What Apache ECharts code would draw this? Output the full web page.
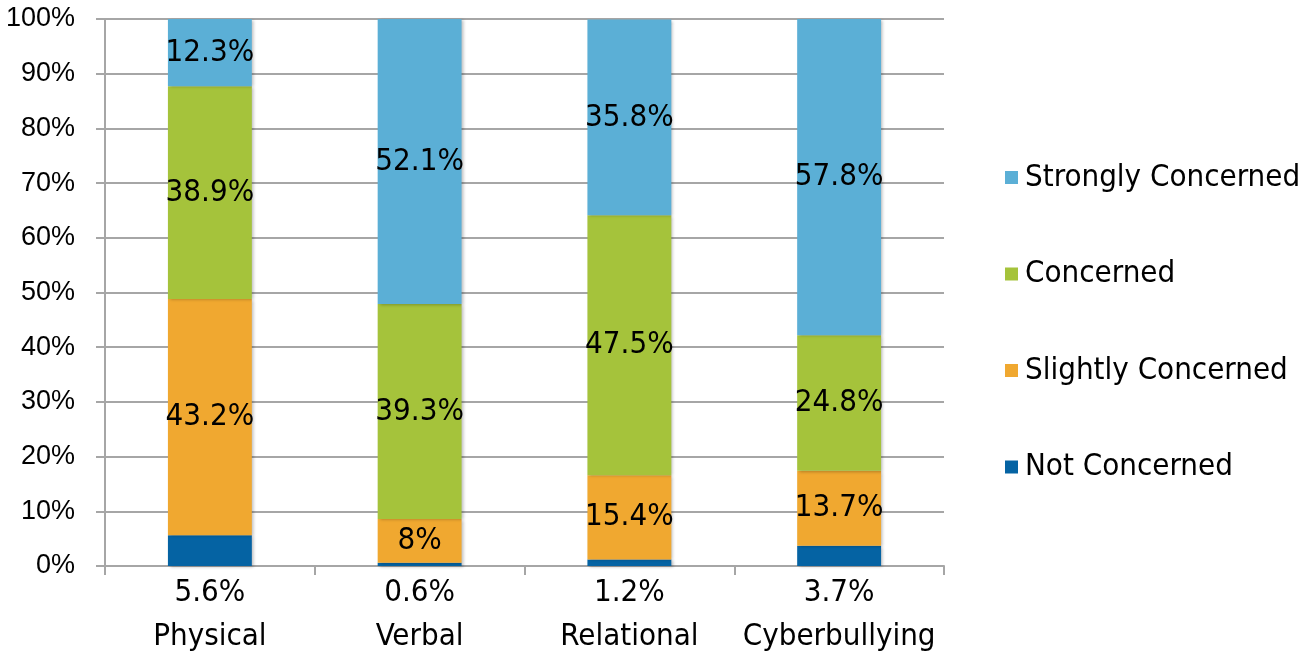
<!DOCTYPE html>
<html>
<head>
<meta charset="utf-8">
<script src="https://cdn.jsdelivr.net/npm/echarts@6/dist/echarts.min.js"></script>
<style>
  html, body { margin: 0; padding: 0; background: #fff; }
  #chart { width: 1311px; height: 652px; }
</style>
</head>
<body>
<div id="chart"></div>
<script>
// Bullying types and how concerned respondents are about each (percent)
const categories = ['Physical', 'Verbal', 'Relational', 'Cyberbullying'];
const notConcerned = [5.6, 0.6, 1.2, 3.7];
const slightlyConcerned = [43.2, 8, 15.4, 13.7];
const concerned = [38.9, 39.3, 47.5, 24.8];
const stronglyConcerned = [12.3, 52.1, 35.8, 57.8];
const yTicks = [0, 10, 20, 30, 40, 50, 60, 70, 80, 90, 100];

const FONT = '"DejaVu Sans Condensed", "DejaVu Sans", sans-serif';
const AXIS_FONT = '"Liberation Sans Narrow", "Liberation Sans", Arial, sans-serif';
const gridColor = '#a6a6a6';

const barShadow = {
  shadowBlur: 3,
  shadowOffsetX: 2,
  shadowOffsetY: 1,
  shadowColor: 'rgba(0,0,0,0.25)'
};

function makeSeries(name, data, color, labelPos) {
  return {
    name: name,
    type: 'bar',
    stack: 'total',
    barWidth: '40%',
    data: data,
    itemStyle: Object.assign({ color: color }, barShadow),
    label: {
      show: true,
      position: labelPos || 'inside',
      distance: 11,
      formatter: p => p.value + '%',
      color: '#000',
      fontFamily: FONT,
      fontSize: 31
    },
    emphasis: { disabled: true }
  };
}

const chart = echarts.init(document.getElementById('chart'));
chart.setOption({
  animation: false,
  backgroundColor: '#fff',
  grid: { left: 105, right: 367, top: 19, bottom: 86, containLabel: false },
  legend: {
    orient: 'vertical',
    left: 1000,
    top: 157,
    itemWidth: 13,
    itemHeight: 13,
    itemGap: 65.5,
    icon: 'rect',
    data: ['Strongly Concerned', 'Concerned', 'Slightly Concerned', 'Not Concerned'],
    textStyle: { fontFamily: FONT, fontSize: 31, color: '#000', padding: [0, 0, 0, 2] }
  },
  xAxis: {
    type: 'category',
    data: categories,
    axisLine: { show: true, lineStyle: { color: gridColor, width: 2 } },
    axisTick: { show: true, length: 9, alignWithLabel: false, lineStyle: { color: gridColor, width: 2 } },
    axisLabel: { interval: 0, margin: 55, color: '#000', fontFamily: FONT, fontSize: 31 }
  },
  yAxis: {
    type: 'value',
    min: yTicks[0],
    max: yTicks[yTicks.length - 1],
    interval: 10,
    axisLine: { show: true, lineStyle: { color: gridColor, width: 2 } },
    axisTick: { show: true, length: 9, lineStyle: { color: gridColor, width: 2 } },
    splitLine: { show: true, lineStyle: { color: gridColor, width: 2 } },
    axisLabel: {
      margin: 30,
      color: '#000',
      fontFamily: AXIS_FONT,
      fontSize: 27,
      formatter: v => v + '%'
    }
  },
  series: [
    makeSeries('Not Concerned', notConcerned, '#0563a3', 'bottom'),
    makeSeries('Slightly Concerned', slightlyConcerned, '#f0a830'),
    makeSeries('Concerned', concerned, '#a5c33b'),
    makeSeries('Strongly Concerned', stronglyConcerned, '#5bafd6')
  ]
});
</script>
</body>
</html>
